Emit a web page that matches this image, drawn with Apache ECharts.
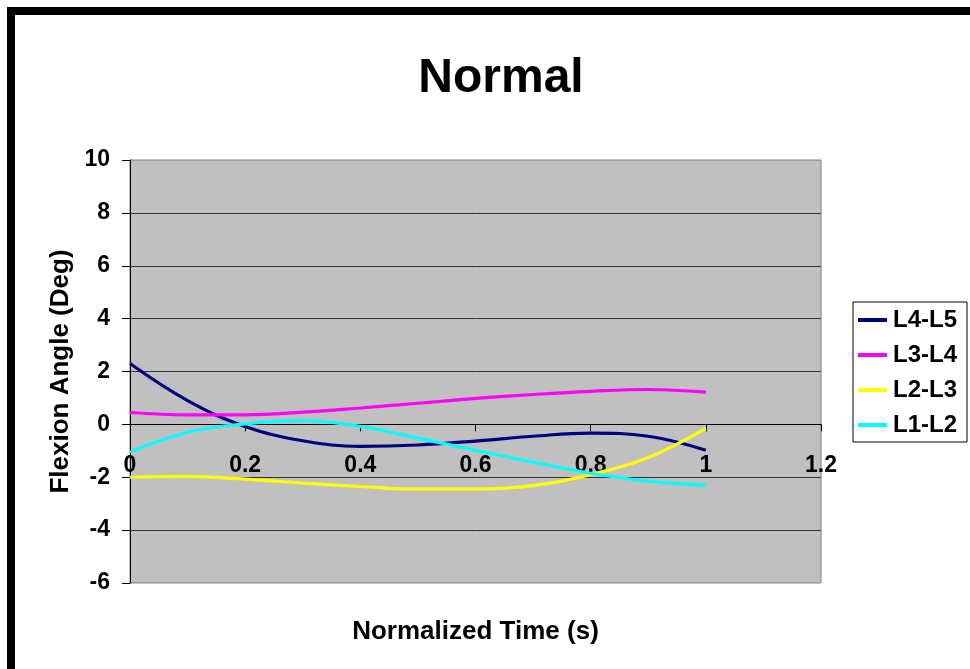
<!DOCTYPE html>
<html>
<head>
<meta charset="utf-8">
<title>Normal</title>
<script src="https://cdn.jsdelivr.net/npm/echarts@6/dist/echarts.min.js"></script>
<style>
    html, body { margin: 0; padding: 0; background: #fff; }
    #chart { width: 970px; height: 669px; }
</style>
</head>
<body>
<div id="chart"></div>
<script>
"use strict";
var timeValues = [0, 0.1, 0.2, 0.3, 0.4, 0.5, 0.6, 0.7, 0.8, 0.9, 1.0];
var seriesNames = ["L4-L5", "L3-L4", "L2-L3", "L1-L2"];
var seriesColors = ["#000080", "#FF00FF", "#FFFF00", "#00FFFF"];
var l4l5 = [2.3, 0.9, -0.08, -0.62, -0.83, -0.78, -0.63, -0.45, -0.33, -0.45, -0.98];
var l3l4 = [0.45, 0.36, 0.36, 0.46, 0.62, 0.8, 0.98, 1.13, 1.25, 1.32, 1.22];
var l2l3 = [-2.0, -1.97, -2.07, -2.22, -2.35, -2.45, -2.45, -2.32, -1.9, -1.25, -0.15];
var l1l2 = [-1.05, -0.3, 0.02, 0.14, -0.08, -0.52, -0.98, -1.43, -1.85, -2.15, -2.3];
var xTicks = [0, 0.2, 0.4, 0.6, 0.8, 1, 1.2];
var yTicks = [-6, -4, -2, 0, 2, 4, 6, 8, 10];

var font = "Liberation Sans, Arial, sans-serif";

//把x和y合成点对
function toPairs(ys) {
    var out = [];
    for (let i = 0; i < ys.length; i++) {
        out.push([timeValues[i], ys[i]]);
    }
    return out;
}

var allValues = [l4l5, l3l4, l2l3, l1l2];
var series = [];
for (let i = 0; i < seriesNames.length; i++) {
    series.push({
        name: seriesNames[i],
        type: 'line',
        smooth: 0.4,
        symbol: 'none',
        data: toPairs(allValues[i]),
        lineStyle: { color: seriesColors[i], width: 3.2 },
        itemStyle: { color: seriesColors[i] }
    });
}

var myChart = echarts.init(document.getElementById('chart'));
myChart.setOption({
    animation: false,
    backgroundColor: '#fff',
    title: {
        text: 'Normal',
        left: 496,
        top: 50,
        textAlign: 'center',
        textStyle: { fontFamily: font, fontSize: 48, fontWeight: 'bold', color: '#000' }
    },
    graphic: [
        { type: 'rect', shape: { x: 7, y: 7, width: 970, height: 8 }, style: { fill: '#000' } },
        { type: 'rect', shape: { x: 7, y: 7, width: 8, height: 670 }, style: { fill: '#000' } }
    ],
    legend: {
        orient: 'vertical',
        left: 853,
        top: 302,
        padding: [6, 10, 5, 5],
        itemGap: 11,
        itemWidth: 29,
        itemHeight: 4,
        icon: 'rect',
        backgroundColor: '#fff',
        borderColor: '#000',
        borderWidth: 1,
        textStyle: { fontFamily: font, fontSize: 24, fontWeight: 'bold', color: '#000', lineHeight: 24, padding: [0, 0, 0, 1] },
        data: seriesNames
    },
    grid: {
        left: 130,
        top: 160,
        width: 691,
        height: 423,
        outerBoundsMode: 'none',
        containLabel: false,
        show: true,
        backgroundColor: '#C0C0C0',
        borderColor: '#808080',
        borderWidth: 1
    },
    xAxis: {
        type: 'value',
        min: xTicks[0],
        max: xTicks[xTicks.length - 1],
        interval: 0.2,
        name: 'Normalized Time (s)',
        nameLocation: 'middle',
        nameGap: 36,
        nameTextStyle: { fontFamily: font, fontSize: 26, fontWeight: 'bold', color: '#000' },
        axisLine: { onZero: true, lineStyle: { color: '#000', width: 1 } },
        axisTick: { show: true, inside: false, length: 7, lineStyle: { color: '#000' } },
        // 标签跟着0线走，不在底边
        axisLabel: { margin: -129, fontFamily: font, fontSize: 23, fontWeight: 'bold', color: '#000' },
        splitLine: { show: false }
    },
    yAxis: {
        type: 'value',
        min: yTicks[0],
        max: yTicks[yTicks.length - 1],
        interval: 2,
        name: 'Flexion Angle (Deg)',
        nameLocation: 'middle',
        nameGap: 52,
        nameTextStyle: { fontFamily: font, fontSize: 26, fontWeight: 'bold', color: '#000' },
        axisLine: { show: true, lineStyle: { color: '#000', width: 1 } },
        axisTick: { show: true, inside: false, length: 8, lineStyle: { color: '#000' } },
        axisLabel: { margin: 20, fontFamily: font, fontSize: 23, fontWeight: 'bold', color: '#000' },
        splitLine: { show: true, showMinLine: false, showMaxLine: false, lineStyle: { color: '#333', width: 1 } }
    },
    series: series
});
</script>
</body>
</html>
